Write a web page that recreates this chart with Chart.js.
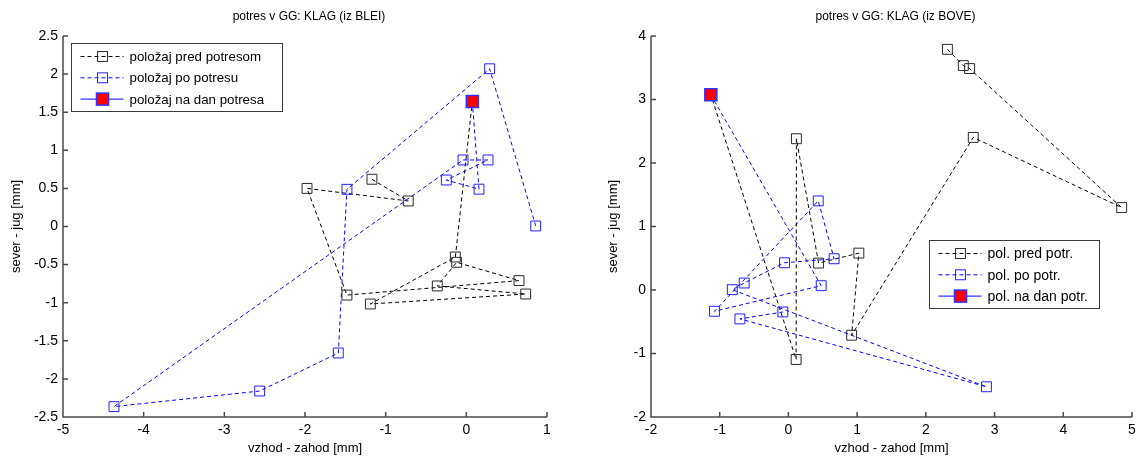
<!DOCTYPE html>
<html>
<head>
<meta charset="utf-8">
<script src="https://cdn.jsdelivr.net/npm/chart.js@4"></script>
<style>
html, body { margin: 0; padding: 0; background: #fff; }
#wrap { position: relative; width: 1142px; height: 460px; }
.box { position: absolute; top: 0; width: 571px; height: 460px; }
</style>
</head>
<body>
<div id="wrap">
  <div class="box" style="left:0"><canvas id="left"></canvas></div>
  <div class="box" style="left:571px"><canvas id="right"></canvas></div>
</div>
<script>
// BLEI - east / north offsets [mm]
const bleiPreE  = [-1.17, -0.72, -1.975, -1.48, 0.653, -0.12, -0.36, 0.736, -1.19, -0.136];
const bleiPreN  = [0.62, 0.335, 0.50, -0.90, -0.71, -0.47, -0.78, -0.886, -1.017, -0.40];
const bleiQuake = [0.074, 1.64];
const bleiPostE = [0.157, -0.248, 0.269, -0.041, -4.368, -2.562, -1.587, -1.48, 0.289, 0.86];
const bleiPostN = [0.49, 0.61, 0.873, 0.873, -2.364, -2.159, -1.66, 0.488, 2.07, 0.007];

// BOVE
const bovePreE  = [2.314, 2.545, 2.637, 4.85, 2.69, 0.92, 1.025, 0.439, 0.116, 0.112];
const bovePreN  = [3.79, 3.534, 3.487, 1.298, 2.403, -0.712, 0.581, 0.424, 2.382, -1.094];
const boveQuake = [-1.129, 3.073];
const bovePostE = [0.477, -1.076, 0.434, 0.665, -0.057, -0.644, -0.817, 2.882, -0.706, -0.081];
const bovePostN = [0.068, -0.335, 1.403, 0.492, 0.429, 0.110, 0.005, -1.524, -0.455, -0.346];

const bleiTicksX = [-5, -4, -3, -2, -1, 0, 1];
const bleiTicksY = [-2.5, -2, -1.5, -1, -0.5, 0, 0.5, 1, 1.5, 2, 2.5];
const boveTicksX = [-2, -1, 0, 1, 2, 3, 4, 5];
const boveTicksY = [-2, -1, 0, 1, 2, 3, 4];

const bleiLabels = ['položaj pred potresom', 'položaj po potresu', 'položaj na dan potresa'];
const boveLabels = ['pol. pred potr.', 'pol. po potr.', 'pol. na dan potr.'];

const FONT = "'Liberation Sans', Arial, sans-serif";
Chart.defaults.font.family = FONT;
Chart.defaults.color = '#000';

function pts(xs, ys) {
  return xs.map((x, i) => ({ x: x, y: ys[i] }));
}

function makeDatasets(preE, preN, quake, postE, postN, labels) {
  const q = { x: quake[0], y: quake[1] };
  return [
    {
      label: labels[0],
      data: pts(preE, preN).concat([q]),
      showLine: true,
      borderColor: '#000',
      borderWidth: 1,
      borderDash: [4, 3],
      pointStyle: 'rect',
      pointRadius: 7,
      pointBorderWidth: 1,
      pointBorderColor: '#2a2a2a',
      pointBackgroundColor: 'rgba(0,0,0,0)',
      legendDash: [4, 3],
      order: 2
    },
    {
      label: labels[1],
      data: [q].concat(pts(postE, postN)),
      showLine: true,
      borderColor: '#0000ff',
      borderWidth: 1,
      borderDash: [4, 3],
      pointStyle: 'rect',
      pointRadius: 7,
      pointBorderWidth: 1,
      pointBorderColor: '#2020ff',
      pointBackgroundColor: 'rgba(0,0,0,0)',
      legendDash: [4, 3],
      order: 1
    },
    {
      label: labels[2],
      data: [q],
      showLine: false,
      borderColor: '#0000ff',
      borderWidth: 1,
      pointStyle: 'rect',
      pointRadius: 8.5,
      pointBorderWidth: 1.5,
      pointBorderColor: '#3030ff',
      pointBackgroundColor: '#ff0000',
      legendDash: [],
      order: 0
    }
  ];
}

// matlab style axes: left + bottom line, ticks pointing inside, title over the axes
const matlabAxes = {
  id: 'matlabAxes',
  beforeDatasetsDraw(chart, args, opts) {
    const { ctx, chartArea: a, scales } = chart;
    ctx.save();
    ctx.strokeStyle = '#4a4a4a';
    ctx.lineWidth = 1.5;
    ctx.setLineDash([]);
    ctx.beginPath();
    ctx.moveTo(a.left, a.top);
    ctx.lineTo(a.left, a.bottom);
    ctx.lineTo(a.right, a.bottom);
    scales.x.ticks.forEach(t => {
      const px = scales.x.getPixelForValue(t.value);
      ctx.moveTo(px, a.bottom);
      ctx.lineTo(px, a.bottom - 5);
    });
    scales.y.ticks.forEach(t => {
      const py = scales.y.getPixelForValue(t.value);
      ctx.moveTo(a.left, py);
      ctx.lineTo(a.left + 5, py);
    });
    ctx.stroke();
    ctx.fillStyle = '#000';
    ctx.font = '12px ' + FONT;
    ctx.textAlign = 'center';
    ctx.textBaseline = 'middle';
    ctx.fillText(opts.title, (a.left + a.right) / 2 + 4, 17);
    ctx.restore();
  }
};

// boxed legend with line + marker samples
const matlabLegend = {
  id: 'matlabLegend',
  afterDraw(chart, args, opts) {
    const { ctx, chartArea } = chart;
    const x0 = Math.round(chartArea.left + opts.x) + 0.5;
    const y0 = Math.round(chartArea.top + opts.y) + 0.5;
    ctx.save();
    ctx.fillStyle = '#fff';
    ctx.fillRect(x0, y0, opts.w, opts.h);
    ctx.strokeStyle = '#3a3a3a';
    ctx.lineWidth = 1;
    ctx.setLineDash([]);
    ctx.strokeRect(x0, y0, opts.w, opts.h);
    chart.data.datasets.forEach((ds, i) => {
      const y = y0 + 13 + i * 21.3;
      ctx.strokeStyle = ds.borderColor;
      ctx.lineWidth = 1;
      ctx.setLineDash(ds.legendDash);
      ctx.beginPath();
      ctx.moveTo(x0 + 9, y);
      ctx.lineTo(x0 + 52, y);
      ctx.stroke();
      ctx.setLineDash([]);
      const s = ds.pointRadius * Math.SQRT2;
      ctx.fillStyle = ds.pointBackgroundColor;
      ctx.fillRect(x0 + 31 - s / 2, y - s / 2, s, s);
      ctx.strokeStyle = ds.pointBorderColor;
      ctx.lineWidth = ds.pointBorderWidth;
      ctx.strokeRect(x0 + 31 - s / 2, y - s / 2, s, s);
      ctx.fillStyle = '#000';
      ctx.font = opts.fontSize + 'px ' + FONT;
      ctx.textBaseline = 'middle';
      ctx.fillText(ds.label, x0 + 58, y + 1);
    });
    ctx.restore();
  }
};

function makeChart(id, title, datasets, xr, yr, xt, yt, yWidth, padLeft, padRight, legendPos) {
  return new Chart(document.getElementById(id), {
    type: 'scatter',
    data: { datasets: datasets },
    plugins: [matlabAxes, matlabLegend],
    options: {
      responsive: true,
      maintainAspectRatio: false,
      animation: false,
      devicePixelRatio: 1,
      layout: { padding: { left: padLeft, right: padRight, top: 36, bottom: 0 } },
      plugins: {
        legend: { display: false },
        tooltip: { enabled: false },
        title: { display: false },
        matlabAxes: { title: title },
        matlabLegend: legendPos
      },
      scales: {
        x: {
          type: 'linear',
          min: xr[0], max: xr[1],
          afterBuildTicks: s => { s.ticks = xt.map(v => ({ value: v })); },
          afterFit: s => { s.height = 43; },
          grid: { display: false, drawTicks: false },
          border: { display: false },
          ticks: { font: { size: 14 }, padding: 5, maxRotation: 0, autoSkip: false, callback: v => String(v) },
          title: { display: true, text: 'vzhod - zahod [mm]', font: { size: 13 }, padding: { top: 0, bottom: 4 } }
        },
        y: {
          type: 'linear',
          min: yr[0], max: yr[1],
          afterBuildTicks: s => { s.ticks = yt.map(v => ({ value: v })); },
          afterFit: s => { s.width = yWidth; },
          grid: { display: false, drawTicks: false },
          border: { display: false },
          ticks: { font: { size: 14 }, padding: 5, autoSkip: false, callback: v => String(v) },
          title: { display: true, text: 'sever - jug [mm]', font: { size: 13 }, padding: { top: 9, bottom: 0 } }
        }
      }
    }
  });
}

makeChart('left', 'potres v GG: KLAG (iz BLEI)',
  makeDatasets(bleiPreE, bleiPreN, bleiQuake, bleiPostE, bleiPostN, bleiLabels),
  [-5, 1], [-2.5, 2.5], bleiTicksX, bleiTicksY, 63, 0, 24,
  { x: 7.7, y: 7.3, w: 211, h: 68, fontSize: 13.3 });

makeChart('right', 'potres v GG: KLAG (iz BOVE)',
  makeDatasets(bovePreE, bovePreN, boveQuake, bovePostE, bovePostN, boveLabels),
  [-2, 5], [-2, 4], boveTicksX, boveTicksY, 54, 26, 6,
  { x: 278, y: 204, w: 170, h: 68, fontSize: 14 });
</script>
</body>
</html>
